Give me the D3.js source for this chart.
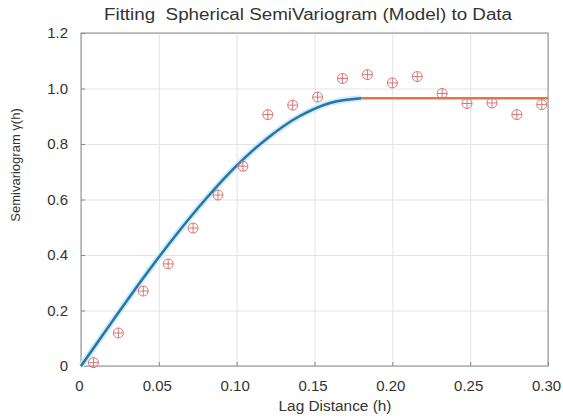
<!DOCTYPE html>
<html>
<head>
<meta charset="utf-8">
<script src="https://cdn.jsdelivr.net/npm/d3@7"></script>
<style>
  body { margin: 0; background: #fff; }
  svg text { font-family: "Liberation Sans", Arial, sans-serif; fill: #333; }
</style>
</head>
<body>
<svg></svg>
<script>
// experimental semivariogram points
let lagData = [0.008, 0.024, 0.040, 0.056, 0.072, 0.088, 0.104, 0.120, 0.136, 0.152,
               0.168, 0.184, 0.200, 0.216, 0.232, 0.248, 0.264, 0.280, 0.296];
let gammaData = [0.012, 0.119, 0.270, 0.368, 0.497, 0.616, 0.720, 0.906, 0.940, 0.969,
                 1.036, 1.050, 1.020, 1.043, 0.982, 0.946, 0.948, 0.906, 0.942];

// fitted spherical model (rising part)
let modelLag = [0, 0.02, 0.04, 0.06, 0.08, 0.10, 0.12, 0.14, 0.16, 0.18];
let modelGamma = [0, 0.160, 0.317, 0.465, 0.601, 0.722, 0.822, 0.899, 0.948, 0.965];

// sill beyond the range
let sillLag = [0.18, 0.30];
let sillGamma = [0.965, 0.965];

let xTicks = [0, 0.05, 0.10, 0.15, 0.20, 0.25, 0.30];
let yTicks = [0, 0.2, 0.4, 0.6, 0.8, 1.0, 1.2];

let width = 563;
let height = 419;
let plotLeft = 81, plotRight = 548, plotTop = 33, plotBottom = 366;

let svg = d3.select("svg")
    .attr("width", width)
    .attr("height", height);

let xScale = d3.scaleLinear()
    .domain([0, 0.3])
    .range([plotLeft, plotRight]);

let yScale = d3.scaleLinear()
    .domain([0, 1.2])
    .range([plotBottom, plotTop]);

// grid
svg.append("g")
    .attr("transform", "translate(0," + plotBottom + ")")
    .call(d3.axisBottom(xScale).tickValues(xTicks).tickSize(-(plotBottom - plotTop)).tickFormat(""))
    .call(g => g.select(".domain").remove())
    .selectAll("line").attr("stroke", "#e3e3e3");

svg.append("g")
    .attr("transform", "translate(" + plotLeft + ",0)")
    .call(d3.axisLeft(yScale).tickValues(yTicks).tickSize(-(plotRight - plotLeft)).tickFormat(""))
    .call(g => g.select(".domain").remove())
    .selectAll("line").attr("stroke", "#e3e3e3");

// tick labels
let xAxis = svg.append("g")
    .attr("transform", "translate(0," + plotBottom + ")")
    .call(d3.axisBottom(xScale)
        .tickValues(xTicks)
        .tickSize(4)
        .tickPadding(10)
        .tickFormat(d => d === 0 ? "0" : d3.format(".2f")(d)));
xAxis.select(".domain").remove();
xAxis.selectAll("line").attr("stroke", "#888").attr("y2", -4);
xAxis.selectAll("text").attr("font-size", 15).attr("dx", -2).attr("fill", "#3a3a3a");

let yAxis = svg.append("g")
    .attr("transform", "translate(" + plotLeft + ",0)")
    .call(d3.axisLeft(yScale)
        .tickValues(yTicks)
        .tickSize(4)
        .tickPadding(9)
        .tickFormat(d => d === 0 ? "0" : d3.format(".1f")(d)));
yAxis.select(".domain").remove();
yAxis.selectAll("line").attr("stroke", "#888").attr("x2", 4);
yAxis.selectAll("text").attr("font-size", 15).attr("fill", "#3a3a3a");

// box
svg.append("rect")
    .attr("x", plotLeft)
    .attr("y", plotTop)
    .attr("width", plotRight - plotLeft)
    .attr("height", plotBottom - plotTop)
    .attr("fill", "none")
    .attr("stroke", "#8a8a8a")
    .attr("stroke-width", 1);

let line = d3.line()
    .x(d => xScale(d[0]))
    .y(d => yScale(d[1]))
    .curve(d3.curveCatmullRom);

let model = d3.zip(modelLag, modelGamma);
let sill = d3.zip(sillLag, sillGamma);

svg.append("path")
    .datum(model)
    .attr("d", line)
    .attr("fill", "none")
    .attr("stroke", "#c8ecf8")
    .attr("stroke-width", 6);

svg.append("path")
    .datum(model)
    .attr("d", line)
    .attr("fill", "none")
    .attr("stroke", "#2a73a6")
    .attr("stroke-width", 2.5);

svg.append("path")
    .datum(sill)
    .attr("d", line)
    .attr("fill", "none")
    .attr("stroke", "#e2773f")
    .attr("stroke-width", 2.5);

// data markers: circle + plus
let points = svg.append("g")
    .selectAll("g")
    .data(d3.zip(lagData, gammaData))
    .enter()
    .append("g")
    .attr("transform", d => "translate(" + xScale(d[0]) + "," + yScale(d[1]) + ")")
    .attr("stroke", "#d97575")
    .attr("stroke-width", 1)
    .attr("fill", "none");

points.append("circle").attr("r", 5);
points.append("line").attr("x1", -5).attr("x2", 5);
points.append("line").attr("y1", -5).attr("y2", 5);

// title and labels
svg.append("text")
    .attr("x", 308)
    .attr("y", 20)
    .attr("text-anchor", "middle")
    .attr("font-size", 16)
    .attr("textLength", 408)
    .attr("lengthAdjust", "spacingAndGlyphs")
    .attr("fill", "#333")
    .style("white-space", "pre")
    .text("Fitting  Spherical SemiVariogram (Model) to Data");

svg.append("text")
    .attr("x", 335)
    .attr("y", 411)
    .attr("text-anchor", "middle")
    .attr("font-size", 14)
    .attr("textLength", 113)
    .attr("lengthAdjust", "spacingAndGlyphs")
    .attr("fill", "#333")
    .text("Lag Distance (h)");

svg.append("text")
    .attr("transform", "rotate(-90)")
    .attr("x", -165)
    .attr("y", 20)
    .attr("text-anchor", "middle")
    .attr("font-size", 13)
    .attr("fill", "#444")
    .text("Semivariogram γ(h)");
</script>
</body>
</html>
